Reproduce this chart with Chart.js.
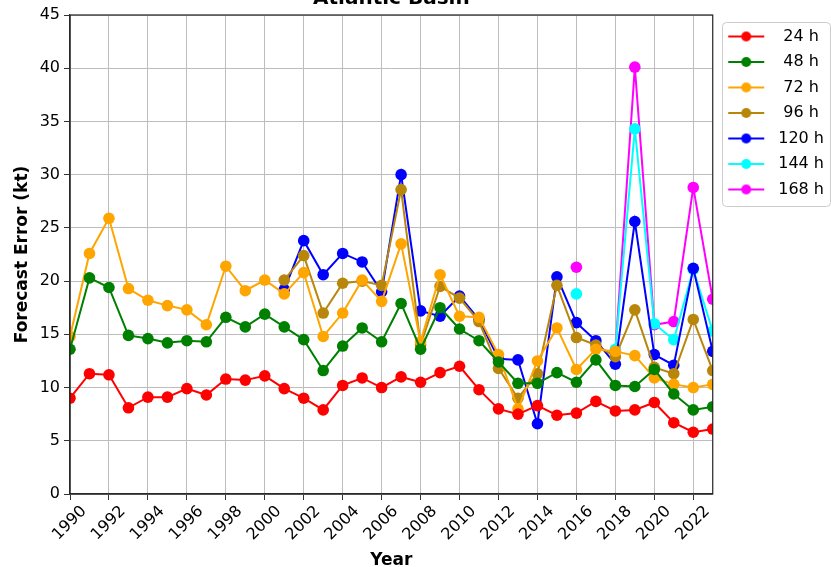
<!DOCTYPE html>
<html>
<head>
<meta charset="utf-8">
<script src="https://cdn.jsdelivr.net/npm/chart.js@4"></script>
<style>
  body { margin: 0; background: #fff; overflow: hidden; }
  #wrap { position: absolute; left: 0; top: -22px; width: 831px; height: 589px; }
</style>
</head>
<body>
<div id="wrap"><canvas id="grafico" width="831" height="589"></canvas></div>
<script>
const years = [1990, 1991, 1992, 1993, 1994, 1995, 1996, 1997, 1998, 1999,
               2000, 2001, 2002, 2003, 2004, 2005, 2006, 2007, 2008, 2009,
               2010, 2011, 2012, 2013, 2014, 2015, 2016, 2017, 2018, 2019,
               2020, 2021, 2022, 2023];

const err24 = [9.0, 11.3, 11.2, 8.1, 9.1, 9.1, 9.9, 9.3, 10.8, 10.7,
               11.1, 9.9, 9.0, 7.9, 10.2, 10.9, 10.0, 11.0, 10.5, 11.4,
               12.0, 9.8, 8.0, 7.5, 8.3, 7.4, 7.6, 8.7, 7.8, 7.9,
               8.6, 6.7, 5.8, 6.1];
const err48 = [13.6, 20.3, 19.4, 14.9, 14.6, 14.2, 14.4, 14.3, 16.6, 15.7,
               16.9, 15.7, 14.5, 11.6, 13.9, 15.6, 14.3, 17.9, 13.6, 17.5,
               15.5, 14.4, 12.4, 10.4, 10.4, 11.4, 10.5, 12.6, 10.2, 10.1,
               11.7, 9.4, 7.9, 8.2];
const err72 = [14.8, 22.6, 25.9, 19.3, 18.2, 17.7, 17.3, 15.9, 21.4, 19.1,
               20.1, 18.8, 20.8, 14.8, 17.0, 20.1, 18.1, 23.5, 14.3, 20.6,
               16.7, 16.6, 13.1, 8.0, 12.5, 15.6, 11.7, 13.6, 13.4, 13.0,
               10.9, 10.3, 10.0, 10.3];
const err96 = [null, null, null, null, null, null, null, null, null, null,
               null, 20.1, 22.4, 17.0, 19.8, 20.0, 19.6, 28.6, 14.0, 19.5,
               18.4, 16.2, 11.8, 9.0, 11.3, 19.6, 14.7, 14.0, 12.9, 17.3,
               11.9, 11.3, 16.4, 11.6];
const err120 = [null, null, null, null, null, null, null, null, null, null,
                null, 19.2, 23.8, 20.6, 22.6, 21.8, 19.0, 30.0, 17.2, 16.7,
                18.6, 16.4, 12.7, 12.6, 6.6, 20.4, 16.1, 14.4, 12.2, 25.6,
                13.1, 12.1, 21.2, 13.4];
const err144 = [null, null, null, null, null, null, null, null, null, null,
                null, null, null, null, null, null, null, null, null, null,
                null, null, null, null, null, null, 18.8, null, 13.6, 34.3,
                16.0, 14.5, 21.1, 15.3];
const err168 = [null, null, null, null, null, null, null, null, null, null,
                null, null, null, null, null, null, null, null, null, null,
                null, null, null, null, null, null, 21.3, null, 13.4, 40.1,
                15.9, 16.2, 28.8, 18.3];

const seriesLabels = [' 24 h', ' 48 h', ' 72 h', ' 96 h', '120 h', '144 h', '168 h'];
const seriesColors = ['#ff0000', '#008000', '#ffa500', '#b8860b', '#0000ff', '#00ffff', '#ff00ff'];
const seriesValues = [err24, err48, err72, err96, err120, err144, err168];

const xTicks = [1990, 1992, 1994, 1996, 1998, 2000, 2002, 2004, 2006, 2008, 2010,
                2012, 2014, 2016, 2018, 2020, 2022];

const FONT = 'DejaVu Sans';

// legend icon: line with a dot, like the matplotlib legend
function legendIcon(color) {
  const c = document.createElement('canvas');
  c.width = 48; c.height = 12;
  const g = c.getContext('2d');
  g.strokeStyle = color;
  g.lineWidth = 2;
  g.beginPath();
  g.moveTo(6, 6); g.lineTo(42, 6);
  g.stroke();
  g.fillStyle = color;
  g.beginPath();
  g.arc(24, 6, 5, 0, Math.PI * 2);
  g.fill();
  return c;
}
const icons = seriesColors.map(legendIcon);

const datasets = seriesValues.map((vals, k) => ({
  label: seriesLabels[k],
  data: years.map((yr, i) => ({ x: yr, y: vals[i] })),
  borderColor: seriesColors[k],
  backgroundColor: seriesColors[k],
  pointBackgroundColor: seriesColors[k],
  pointBorderColor: seriesColors[k],
  borderWidth: 2,
  pointRadius: 5.8,
  pointBorderWidth: 0,
  tension: 0,
  spanGaps: false,
  clip: 0
}));

const marco = {
  id: 'marco',
  afterDraw(chart) {
    const ctx = chart.ctx;
    const a = chart.chartArea;
    ctx.save();
    ctx.strokeStyle = '#222';
    ctx.lineWidth = 1.2;
    ctx.strokeRect(a.left, a.top, a.right - a.left, a.bottom - a.top);
    const hb = chart.legend.legendHitBoxes;
    if (hb && hb.length) {
      const x0 = Math.round(hb[0].left);
      const y0 = Math.round(hb[0].top - 7);
      const x1 = chart.width - 1;
      const y1 = Math.round(hb[hb.length - 1].top + hb[hb.length - 1].height + 8);
      ctx.strokeStyle = '#cccccc';
      ctx.lineWidth = 1;
      ctx.beginPath();
      ctx.roundRect(x0 + 0.5, y0 + 0.5, x1 - x0, y1 - y0, 4);
      ctx.stroke();
    }
    ctx.restore();
  }
};

new Chart(document.getElementById('grafico').getContext('2d'), {
  type: 'line',
  data: { datasets },
  plugins: [marco],
  options: {
    responsive: false,
    animation: false,
    devicePixelRatio: 1,
    layout: { padding: { left: 0, right: -3, top: 0, bottom: 0 } },
    plugins: {
      tooltip: { enabled: false },
      title: {
        display: true,
        text: 'Atlantic Basin',
        fullSize: false,
        color: '#000',
        font: { family: FONT, size: 20, weight: 'bold' },
        padding: { top: 9, bottom: 4 }
      },
      legend: {
        position: 'right',
        align: 'start',
        fullSize: false,
        title: { display: true, text: '', font: { size: 1 }, padding: { top: 2.8, bottom: 0 } },
        labels: {
          color: '#000',
          font: { family: FONT, size: 16 },
          usePointStyle: true,
          pointStyleWidth: 48,
          boxHeight: 12,
          padding: 9.5,
          generateLabels(chart) {
            const items = Chart.defaults.plugins.legend.labels.generateLabels(chart);
            items.forEach((it, i) => { it.pointStyle = icons[i]; });
            return items;
          }
        }
      }
    },
    scales: {
      x: {
        type: 'linear',
        min: 1990,
        max: 2023,
        afterFit(s) { s.height = 73; },
        afterBuildTicks(s) { s.ticks = xTicks.map(v => ({ value: v })); },
        ticks: {
          callback: v => String(v),
          maxRotation: 45,
          minRotation: 45,
          labelOffset: 14,
          padding: 2,
          color: '#000',
          font: { family: FONT, size: 16 }
        },
        grid: { color: '#bdbdbd', tickColor: '#333', tickLength: 6, lineWidth: 1 },
        border: { color: '#333', width: 1.2 },
        title: {
          display: true,
          text: 'Year',
          color: '#000',
          font: { family: FONT, size: 17, weight: 'bold' },
          padding: { top: 0, bottom: -4 }
        }
      },
      y: {
        min: 0,
        max: 45,
        afterFit(s) { s.width = 70; },
        ticks: {
          stepSize: 5,
          padding: 4,
          color: '#000',
          font: { family: FONT, size: 16 }
        },
        grid: { color: '#bdbdbd', tickColor: '#333', tickLength: 6, lineWidth: 1 },
        border: { color: '#333', width: 1.2 },
        title: {
          display: true,
          text: 'Forecast Error (kt)',
          color: '#000',
          font: { family: FONT, size: 17, weight: 'bold' },
          padding: { top: 12, bottom: 0 }
        }
      }
    }
  }
});
</script>
</body>
</html>
